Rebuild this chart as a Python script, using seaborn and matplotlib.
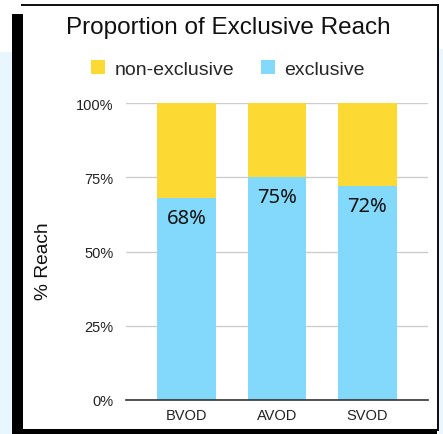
import matplotlib
matplotlib.use("Agg")
import matplotlib.pyplot as plt
from matplotlib.patches import Rectangle
import seaborn as sns
import pandas as pd

categories = ["BVOD", "AVOD", "SVOD"]
exclusive = [68, 75, 72]
non_exclusive = [100 - v for v in exclusive]
labels = ["68%", "75%", "72%"]
yticks = [0, 25, 50, 75, 100]
ytick_labels = ["0%", "25%", "50%", "75%", "100%"]

YELLOW = "#FDDA33"
BLUE = "#82D9FC"

sns.set_theme(style="white")
plt.rcParams["font.family"] = ["Liberation Sans", "DejaVu Sans"]

W, H = 443, 435
fig = plt.figure(figsize=(W / 100, H / 100), dpi=100)
fig.patch.set_facecolor("white")

def frect(x0, y0, x1, y1, color, z=0):
    # pixel coords (top-left origin)
    fig.patches.append(Rectangle((x0 / W, 1 - y1 / H), (x1 - x0) / W, (y1 - y0) / H,
                                 transform=fig.transFigure, facecolor=color,
                                 edgecolor="none", zorder=z))

# page background and card decoration
frect(0, 53, 12, 435, "#EAF6FD")
frect(439, 50, 443, 435, "#EAF6FD")
frect(21, 5, 439, 7, "#111111")
frect(437, 5, 439, 432, "#111111")
frect(12, 15, 22.5, 435, "#000000")
frect(12, 430, 437, 435, "#000000")

ax = fig.add_axes([126 / W, 1 - 401 / H, (428 - 126) / W, (401 - 104) / H])
ax.set_facecolor("none")

df = pd.DataFrame({"cat": categories, "total": [e + n for e, n in zip(exclusive, non_exclusive)],
                   "exclusive": exclusive})
sns.barplot(data=df, x="cat", y="total", color=YELLOW, width=0.65, ax=ax,
            saturation=1, zorder=3, linewidth=0, edgecolor="none")
sns.barplot(data=df, x="cat", y="exclusive", color=BLUE, width=0.65, ax=ax,
            saturation=1, zorder=3, linewidth=0, edgecolor="none")

for i, (v, lab) in enumerate(zip(exclusive, labels)):
    ax.text(i, v - 6.7, lab, ha="center", va="center", fontsize=14.5,
            family=["Noto Sans", "DejaVu Sans"], color="#111111", zorder=5)

ax.set_xlim(-0.67, 2.67)
ax.set_ylim(0, 100)
ax.set_yticks(yticks)
ax.set_yticklabels(ytick_labels, fontsize=10.5, color="#222222")
ax.tick_params(axis="x", labelsize=10.5, colors="#222222", length=0, pad=6)
ax.tick_params(axis="y", length=0, pad=9)
ax.grid(axis="y", color="#CCCCCC", linewidth=1, zorder=0)
ax.set_axisbelow(True)
for s in ["top", "right", "left"]:
    ax.spines[s].set_visible(False)
ax.spines["bottom"].set_color("#333333")
ax.spines["bottom"].set_linewidth(1.2)
ax.spines["bottom"].set_zorder(4)
ax.set_xlabel("")
ax.set_ylabel("")

fig.text(43 / W, 1 - 261 / H, "% Reach", rotation=90, ha="center", va="center",
         fontsize=13.8, color="#111111")
fig.text(228 / W, 1 - 28 / H, "Proportion of Exclusive Reach", ha="center",
         va="center", fontsize=17.5, color="#111111")

handles = [Rectangle((0, 0), 1, 1, facecolor=YELLOW, edgecolor="none"),
           Rectangle((0, 0), 1, 1, facecolor=BLUE, edgecolor="none")]
fig.legend(handles, ["non-exclusive", "exclusive"], loc="center",
           bbox_to_anchor=(228 / W, 1 - 70 / H), ncol=2, frameon=False,
           fontsize=14, handlelength=0.72, handleheight=0.72,
           handletextpad=0.5, columnspacing=1.35, borderpad=0)

fig.savefig("out.png", dpi=100)
